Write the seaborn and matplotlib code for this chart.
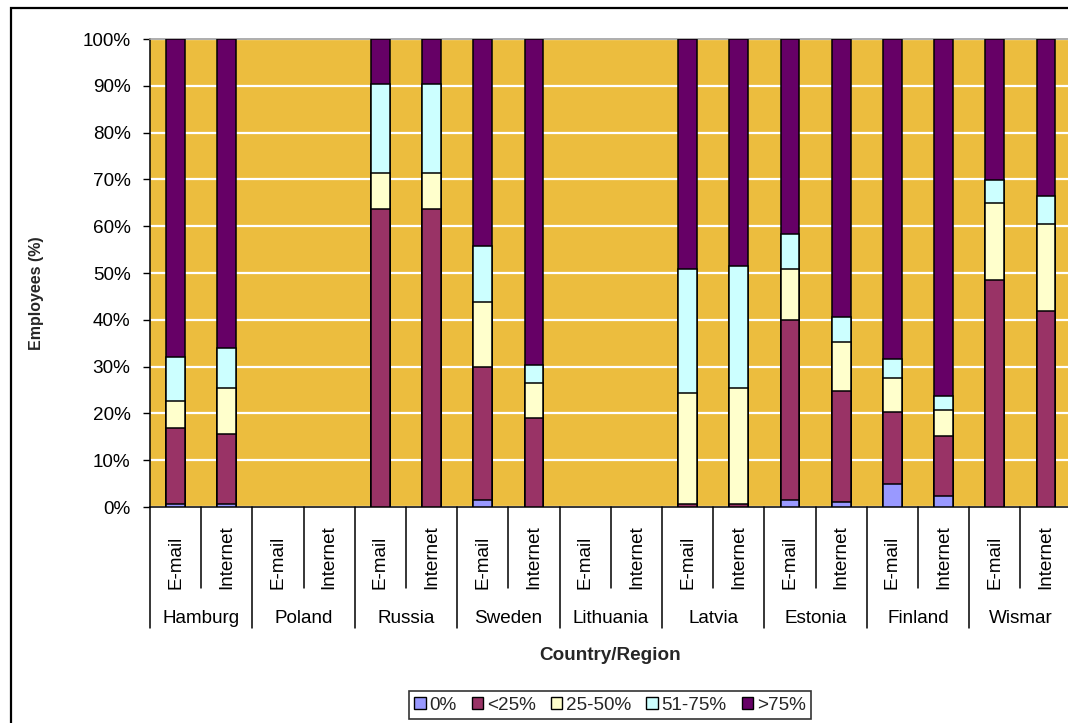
import numpy as np
import pandas as pd
import matplotlib
matplotlib.use("Agg")
import matplotlib.pyplot as plt
import seaborn as sns
from matplotlib.patches import Patch, Rectangle
from matplotlib.transforms import blended_transform_factory

# ---------------- data ----------------
regions = ["Hamburg", "Poland", "Russia", "Sweden", "Lithuania",
           "Latvia", "Estonia", "Finland", "Wismar"]
media = ["E-mail", "Internet"]
levels = ["0%", "<25%", "25-50%", "51-75%", ">75%"]

share_0 = [0.7, 0.7, 0, 0, 0, 0, 1.6, 0, 0, 0, 0, 0, 1.6, 1.0, 5.0, 2.4, 0, 0]
share_lt25 = [16.1, 14.9, 0, 0, 63.7, 63.7, 28.4, 19.0, 0, 0, 0.7, 0.7, 38.4, 23.8, 15.2, 12.8, 48.5, 41.9]
share_25_50 = [5.8, 9.9, 0, 0, 7.7, 7.7, 13.9, 7.4, 0, 0, 23.6, 24.8, 10.9, 10.5, 7.4, 5.5, 16.5, 18.5]
share_51_75 = [9.4, 8.5, 0, 0, 18.9, 18.9, 11.9, 3.9, 0, 0, 26.6, 25.9, 7.4, 5.4, 4.0, 3.1, 4.8, 6.1]
share_gt75 = [68.0, 66.0, 0, 0, 9.7, 9.7, 44.2, 69.7, 0, 0, 49.1, 48.6, 41.7, 59.3, 68.4, 76.2, 30.2, 33.5]

yticks = [0, 10, 20, 30, 40, 50, 60, 70, 80, 90, 100]
ytick_labels = [f"{v}%" for v in yticks]

colors = ["#9999FF", "#993366", "#FFFFCC", "#CCFFFF", "#660066"]
bg = "#ECBD3E"

# ---------------- table ----------------
bar_ids = [f"{r}|{m}" for r in regions for m in media]
shares = np.array([share_0, share_lt25, share_25_50, share_51_75, share_gt75])
cums = np.cumsum(shares, axis=0)
rows = []
for li, lev in enumerate(levels):
    for bi, bid in enumerate(bar_ids):
        rows.append({"bar": bid, "level": lev, "cum": cums[li, bi]})
df = pd.DataFrame(rows)

# ---------------- figure ----------------
sns.set_theme(style="white")
plt.rcParams["font.family"] = ["Liberation Sans", "DejaVu Sans"]
FS = 13.6

W, H = 1068, 723
fig = plt.figure(figsize=(W / 100, H / 100), dpi=100)
fig.patch.set_facecolor("white")

def fx(px):
    return px / W

def fy(py):
    return (H - py) / H

left_px, right_px, top_px, bot_px = 150, 1071.6, 39, 507
ax = fig.add_axes([fx(left_px), fy(bot_px), fx(right_px - left_px), (bot_px - top_px) / H])
ax.set_facecolor(bg)

for li in reversed(range(len(levels))):
    sub = df[df["level"] == levels[li]]
    sns.barplot(data=sub, x="bar", y="cum", order=bar_ids, color=colors[li],
                saturation=1, width=0.37, edgecolor="black", linewidth=1.1,
                ax=ax, zorder=3)

# hide outlines of empty (zero-height) bars
for p in ax.patches:
    if p.get_height() == 0:
        p.set_linewidth(0)

ax.set_xlim(-0.5, len(bar_ids) - 0.5)
ax.set_ylim(0, 100)
ax.set_yticks(yticks)
ax.set_yticklabels(ytick_labels, fontsize=FS)
ax.set_xticks([])
ax.set_xlabel("")
ax.set_ylabel("")
ax.yaxis.grid(True, color="white", linewidth=1.6, zorder=0)
ax.set_axisbelow(True)
ax.tick_params(axis="y", which="major", left=True, length=5, width=1,
               color="black", pad=9, labelcolor="black")
for s in ["left", "bottom"]:
    ax.spines[s].set_color("black")
    ax.spines[s].set_linewidth(1.1)
ax.spines["top"].set_color("#A0A0A0")
ax.spines["top"].set_linewidth(1.2)
ax.spines["right"].set_visible(False)

# hierarchical category axis
tr = blended_transform_factory(ax.transData, fig.transFigure)
for k in range(len(regions) + 1):
    xg = 2 * k - 0.5
    ax.plot([xg, xg], [fy(bot_px), fy(628)], color="black", lw=1.1,
            transform=tr, clip_on=False)
for k in range(len(regions)):
    xs = 2 * k + 0.5
    ax.plot([xs, xs], [fy(bot_px), fy(588)], color="black", lw=1.1,
            transform=tr, clip_on=False)
for bi, bid in enumerate(bar_ids):
    ax.text(bi, fy(589), bid.split("|")[1], rotation=90, ha="center",
            va="bottom", fontsize=FS, transform=tr, color="black")
for k, r in enumerate(regions):
    ax.text(2 * k + 0.5, fy(623), r, ha="center", va="baseline",
            fontsize=FS, transform=tr, color="black")

fig.text(fx(610), fy(660), "Country/Region", ha="center", va="baseline",
         fontsize=FS, fontweight="bold")
fig.text(fx(37), fy(293), "Employees (%)", ha="center", va="center",
         rotation=90, fontsize=11.5, fontweight="bold")

# legend
handles = [Patch(facecolor=c, edgecolor="black", linewidth=1) for c in colors]
leg = fig.legend(handles, levels, loc="center", bbox_to_anchor=(fx(610), fy(705)),
                 ncol=5, fontsize=FS, frameon=True, fancybox=False,
                 handlelength=0.6, handleheight=0.6, handletextpad=0.2,
                 columnspacing=0.8, borderpad=0.3, borderaxespad=0)
leg.get_frame().set_edgecolor("black")
leg.get_frame().set_linewidth(1.2)

# outer chart frame
fig.patches.append(Rectangle((fx(11), fy(740)), fx(1100), fy(8) - fy(740),
                             transform=fig.transFigure, fill=False,
                             edgecolor="black", linewidth=1.6))

fig.savefig("out.png", dpi=100)
